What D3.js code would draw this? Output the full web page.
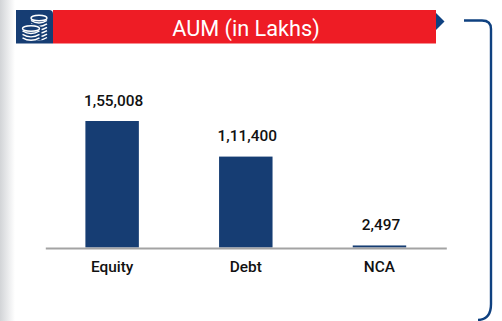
<!DOCTYPE html>
<html>
<head>
<meta charset="utf-8">
<style>
html,body{margin:0;padding:0;background:#fff;overflow:hidden}
text{font-family:Roboto,sans-serif}
</style>
<script src="https://cdn.jsdelivr.net/npm/d3@7"></script>
</head>
<body>
<div id="chart"></div>
<script>
var categories=["Equity","Debt","NCA"];
var values=[155008,111400,2497];
var value_labels=["1,55,008","1,11,400","2,497"];
var title="AUM (in Lakhs)";

var navy="#163d73";
var edge="#0f4180";
var red="#ee1c25";

var svg=d3.select("#chart").append("svg")
	.attr("width",502)
	.attr("height",321)
	.style("display","block");

// soft grey shade down the left side of the page
var defs=svg.append("defs");
var shade=defs.append("linearGradient").attr("id","shade");
shade.append("stop").attr("offset","0").attr("stop-color","#d2d4d7");
shade.append("stop").attr("offset","1").attr("stop-color","#ffffff");
svg.append("rect").attr("width",15).attr("height",321).attr("fill","url(#shade)");

// header
svg.append("rect").attr("x",53).attr("y",10).attr("width",383).attr("height",33.5).attr("fill",red);
svg.append("path").attr("d","M16,10H49Q53,10 53,14V43.5H16Z").attr("fill",navy);
svg.append("path").attr("d","M436,13L444.5,21.5L436,30Z").attr("fill",edge);
svg.append("text")
	.attr("x",246).attr("y",35.5)
	.attr("text-anchor","middle")
	.attr("font-size",21.7)
	.attr("fill","#fff")
	.text(title);

// coin icon
function coin_stack(cx,top,count,rx)
{
	var g=svg.append("g").attr("fill","none").attr("stroke","#fff").attr("stroke-width",1.4);
	g.append("ellipse").attr("cx",cx).attr("cy",top).attr("rx",rx).attr("ry",2.8);
	for(var i=0;i<count;i++)
	{
		var y=top+2.5+i*3.4;
		g.append("path").attr("d","M"+(cx-rx)+","+y+"Q"+cx+","+(y+5)+" "+(cx+rx)+","+y);
	}
}
coin_stack(39,18,6,8);
svg.append("ellipse").attr("cx",31).attr("cy",28.5).attr("rx",10.5).attr("ry",4.5).attr("fill",navy);
svg.append("rect").attr("x",20.5).attr("y",28.5).attr("width",21).attr("height",12).attr("fill",navy);
coin_stack(31,28.5,3,8.5);

// outer frame
svg.append("path")
	.attr("d","M464,20.5H482Q491,20.5 491,29V304Q491,319.5 478,320")
	.attr("fill","none")
	.attr("stroke",edge)
	.attr("stroke-width",2.4);

// chart
var x=d3.scaleBand().domain(categories).range([45.3,446.3]).paddingInner(0.6).paddingOuter(0.3);
var y=d3.scaleLinear().domain([0,155008]).range([247.5,121]);

svg.selectAll("rect.bar").data(values).enter().append("rect")
	.attr("class","bar")
	.attr("x",function(d,i){return x(categories[i]);})
	.attr("y",function(d){return y(d);})
	.attr("width",x.bandwidth())
	.attr("height",function(d){return y(0)-y(d);})
	.attr("fill",navy);

var axis=svg.append("g")
	.attr("transform","translate(0,248)")
	.call(d3.axisBottom(x).tickSize(0).tickPadding(13));
axis.select(".domain").attr("stroke","#a3a3a3").attr("stroke-width",2);
axis.selectAll("text")
	.attr("font-size",15.4)
	.attr("font-weight",500)
	.attr("font-family","Roboto, sans-serif")
	.attr("fill","#111");

svg.selectAll("text.val").data(values).enter().append("text")
	.attr("class","val")
	.attr("x",function(d,i){return x(categories[i])+x.bandwidth()/2+1.5;})
	.attr("y",function(d){return y(d)-15.3;})
	.attr("text-anchor","middle")
	.attr("font-size",15.4)
	.attr("font-weight",500)
	.attr("fill","#111")
	.text(function(d,i){return value_labels[i];});
</script>
</body>
</html>
